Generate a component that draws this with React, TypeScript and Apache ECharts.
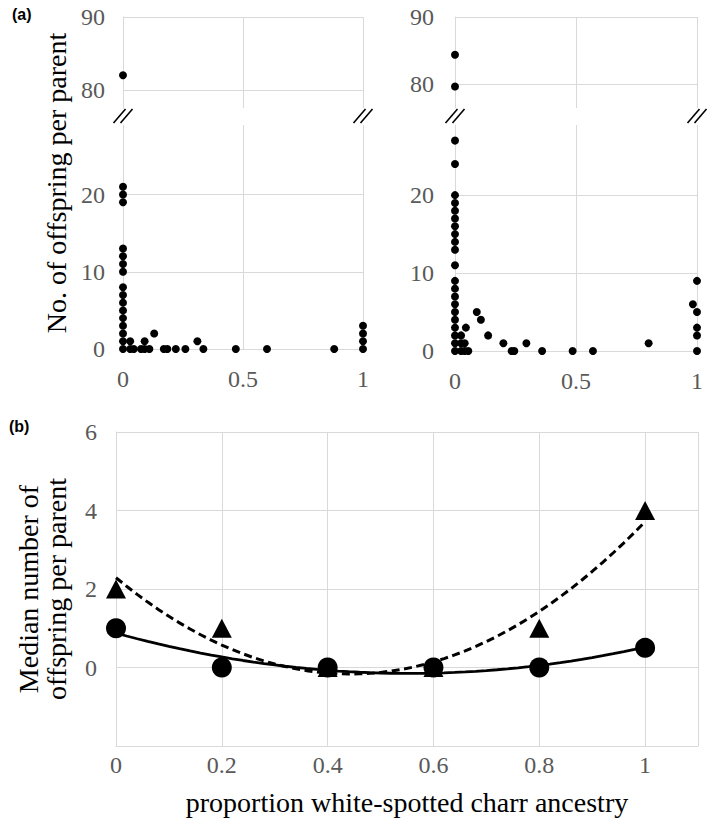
import React, { useEffect, useRef } from "react";
import * as echarts from "echarts";

// ---------- (a) left panel: offspring per parent vs ancestry ----------
const leftUpperPoints: number[][] = [[0, 82]];
const leftLowerPoints: number[][] = [
  [0, 0], [0, 1], [0, 2], [0, 3], [0, 4], [0, 5], [0, 6], [0, 7], [0, 8],
  [0, 10], [0, 11], [0, 12], [0, 13], [0, 19], [0, 20], [0, 21],
  [0.03, 0], [0.03, 1], [0.045, 0], [0.075, 0], [0.09, 0], [0.09, 1], [0.11, 0],
  [0.13, 2], [0.17, 0], [0.185, 0], [0.22, 0], [0.26, 0], [0.31, 1], [0.335, 0],
  [0.47, 0], [0.6, 0], [0.88, 0], [1, 0], [1, 1], [1, 2], [1, 3],
];

// ---------- (a) right panel ----------
const rightUpperPoints: number[][] = [[0, 84.4], [0, 79.7]];
const rightLowerPoints: number[][] = [
  [0, 0], [0, 1], [0, 2], [0, 3], [0, 4], [0, 5], [0, 6], [0, 7], [0, 8], [0, 9],
  [0, 11], [0, 13], [0, 14], [0, 15], [0, 16], [0, 17], [0, 18], [0, 19], [0, 20],
  [0, 24], [0, 27],
  [0.025, 0], [0.025, 1], [0.025, 2], [0.04, 0], [0.04, 1], [0.045, 3], [0.055, 0],
  [0.09, 5], [0.107, 4], [0.137, 2], [0.2, 1], [0.234, 0], [0.245, 0], [0.295, 1],
  [0.36, 0], [0.486, 0], [0.57, 0], [0.8, 1], [0.983, 6], [1, 9], [1, 5], [1, 3],
  [1, 2], [1, 0],
];

// ---------- (b) medians ----------
const ancestry = [0, 0.2, 0.4, 0.6, 0.8, 1];
const medianCircles = [1, 0, 0, 0, 0, 0.5];
const medianTriangles = [2, 1, 0, 0, 1, 4];

// tick / grid values
const upperGridValues = [80, 90];
const lowerGridValues = [10, 20];

const FONT = "'Liberation Serif', 'Times New Roman', serif";
const GRAY = "#d9d9d9";
const LABEL = "#595959";

// quadratic least-squares trendline (as Excel's polynomial order 2)
function quadFit(xs: number[], ys: number[]) {
  const n = xs.length;
  let s1 = 0, s2 = 0, s3 = 0, s4 = 0, t0 = 0, t1 = 0, t2 = 0;
  for (let i = 0; i < n; i++) {
    const x = xs[i], y = ys[i];
    s1 += x; s2 += x * x; s3 += x * x * x; s4 += x * x * x * x;
    t0 += y; t1 += x * y; t2 += x * x * y;
  }
  const M = [
    [n, s1, s2, t0],
    [s1, s2, s3, t1],
    [s2, s3, s4, t2],
  ];
  for (let c = 0; c < 3; c++) {
    for (let r = c + 1; r < 3; r++) {
      const f = M[r][c] / M[c][c];
      for (let k = c; k < 4; k++) M[r][k] -= f * M[c][k];
    }
  }
  const co = [0, 0, 0];
  for (let r = 2; r >= 0; r--) {
    let s = M[r][3];
    for (let k = r + 1; k < 3; k++) s -= M[r][k] * co[k];
    co[r] = s / M[r][r];
  }
  return (x: number) => co[0] + co[1] * x + co[2] * x * x;
}

function trend(xs: number[], ys: number[]) {
  const f = quadFit(xs, ys);
  const lo = Math.min(...xs), hi = Math.max(...xs);
  const out: number[][] = [];
  for (let i = 0; i <= 50; i++) {
    const x = lo + ((hi - lo) * i) / 50;
    out.push([x, f(x)]);
  }
  return out;
}

// layout
const LEFT_X = 123, LEFT_W = 240;
const RIGHT_X = 455, RIGHT_W = 242;
const UP_TOP = 17, UP_H = 91;
const LOW_TOP = 125;

export default function App() {
  const ref = useRef<HTMLDivElement>(null);
  useEffect(() => {
    if (!ref.current) return;
    const chart = echarts.init(ref.current, null, { renderer: "svg" });

    const gridLines = (vals: number[]) => ({
      silent: true,
      symbol: ["none", "none"],
      z: 1,
      label: { show: false },
      emphasis: { disabled: true },
      lineStyle: { color: GRAY, width: 1, type: "solid" },
      data: vals.map((v) => ({ yAxis: v })),
    });

    const topX = (gridIndex: number, show: boolean) => ({
      type: "value",
      gridIndex,
      min: 0,
      max: 1,
      interval: 0.5,
      axisLine: { show, onZero: false, lineStyle: { color: GRAY, width: 1 } },
      axisTick: { show: false },
      axisLabel: {
        show,
        color: LABEL,
        fontFamily: FONT,
        fontSize: 24,
        margin: 18,
        formatter: (v: number) => String(v),
      },
      splitLine: { show: true, lineStyle: { color: GRAY, width: 1 } },
    });

    const yLab = (margin: number, keep: (v: number) => boolean) => ({
      color: LABEL,
      fontFamily: FONT,
      fontSize: 24,
      margin,
      formatter: (v: number) => (keep(v) ? String(v) : ""),
    });

    const topY = (gridIndex: number, min: number, max: number, interval: number, margin: number) => ({
      type: "value",
      gridIndex,
      min,
      max,
      interval,
      axisLine: { show: true, onZero: false, lineStyle: { color: GRAY, width: 1 } },
      axisTick: { show: false },
      axisLabel: yLab(margin, (v) => v % 10 === 0),
      splitLine: { show: false },
    });

    const dot = (xi: number, data: number[][], grid: number[]) => ({
      type: "scatter",
      xAxisIndex: xi,
      yAxisIndex: xi,
      data,
      symbolSize: 8,
      itemStyle: { color: "#000", opacity: 1 },
      z: 3,
      markLine: gridLines(grid),
    });

    const breakMarks = (cx: number, cy: number) =>
      [-3.5, 3.5].map((d) => ({
        type: "line",
        silent: true,
        z: 10,
        shape: { x1: cx - 6 + d, y1: cy + 7, x2: cx + 6 + d, y2: cy - 7 },
        style: { stroke: "#000", lineWidth: 1.6 },
      }));

    const BREAK_Y = 116;

    const option: any = {
      animation: false,
      backgroundColor: "#fff",
      grid: [
        { left: LEFT_X, top: UP_TOP, width: LEFT_W, height: UP_H, outerBoundsMode: "none" },
        { left: LEFT_X, top: LOW_TOP, width: LEFT_W, height: 224, outerBoundsMode: "none" },
        { left: RIGHT_X, top: UP_TOP, width: RIGHT_W, height: UP_H, outerBoundsMode: "none" },
        { left: RIGHT_X, top: LOW_TOP, width: RIGHT_W, height: 226, outerBoundsMode: "none" },
        { left: 116, top: 432, width: 582, height: 314, outerBoundsMode: "none" },
      ],
      xAxis: [
        topX(0, false),
        topX(1, true),
        topX(2, false),
        topX(3, true),
        {
          type: "value",
          gridIndex: 4,
          min: 0,
          max: 1.1,
          interval: 0.2,
          axisLine: { show: true, onZero: false, lineStyle: { color: GRAY, width: 1 } },
          axisTick: { show: false },
          axisLabel: {
            color: LABEL,
            fontFamily: FONT,
            fontSize: 24,
            margin: 7,
            formatter: (v: number) => (v > 1.05 ? "" : String(Math.round(v * 10) / 10)),
          },
          splitLine: { show: true, lineStyle: { color: GRAY, width: 1 } },
        },
      ],
      yAxis: [
        topY(0, 77.5, 90, 2.5, 18),
        topY(1, 0, 29, 10, 18),
        topY(2, 76.5, 90, 0.5, 21),
        topY(3, 0, 29, 10, 21),
        {
          type: "value",
          gridIndex: 4,
          min: -2,
          max: 6,
          interval: 2,
          axisLine: { show: true, onZero: false, lineStyle: { color: GRAY, width: 1 } },
          axisTick: { show: false },
          axisLabel: yLab(19, (v) => v >= 0),
          splitLine: { show: true, lineStyle: { color: GRAY, width: 1 } },
        },
      ],
      series: [
        dot(0, leftUpperPoints, upperGridValues),
        dot(1, leftLowerPoints, lowerGridValues),
        dot(2, rightUpperPoints, upperGridValues),
        dot(3, rightLowerPoints, lowerGridValues),
        {
          type: "line",
          xAxisIndex: 4,
          yAxisIndex: 4,
          data: trend(ancestry, medianTriangles),
          showSymbol: false,
          symbol: "none",
          silent: true,
          lineStyle: { color: "#000", width: 3, type: [8, 4.5] },
          z: 2,
        },
        {
          type: "line",
          xAxisIndex: 4,
          yAxisIndex: 4,
          data: trend(ancestry, medianCircles),
          showSymbol: false,
          symbol: "none",
          silent: true,
          lineStyle: { color: "#000", width: 2.8, type: "solid" },
          z: 2,
        },
        {
          type: "scatter",
          xAxisIndex: 4,
          yAxisIndex: 4,
          data: ancestry.map((x, i) => [x, medianTriangles[i]]),
          symbol: "triangle",
          symbolSize: [20, 19],
          itemStyle: { color: "#000", opacity: 1 },
          z: 3,
        },
        {
          type: "scatter",
          xAxisIndex: 4,
          yAxisIndex: 4,
          data: ancestry.map((x, i) => [x, medianCircles[i]]),
          symbol: "circle",
          symbolSize: 20,
          itemStyle: { color: "#000", opacity: 1 },
          z: 4,
        },
      ],
      graphic: [
        {
          type: "text",
          left: 12,
          top: 6,
          style: { text: "(a)", font: "bold 16px 'Liberation Sans', Arial, sans-serif", fill: "#000" },
        },
        {
          type: "text",
          left: 9,
          top: 418,
          style: { text: "(b)", font: "bold 16px 'Liberation Sans', Arial, sans-serif", fill: "#000" },
        },
        {
          type: "text",
          x: 56,
          y: 183,
          rotation: Math.PI / 2,
          style: {
            text: "No. of offspring per parent",
            font: `28px ${FONT}`,
            fill: "#000",
            align: "center",
            verticalAlign: "middle",
          },
        },
        {
          type: "text",
          x: 42,
          y: 589,
          rotation: Math.PI / 2,
          style: {
            text: "Median number of\noffspring per parent",
            font: `28px ${FONT}`,
            lineHeight: 28,
            fill: "#000",
            align: "center",
            verticalAlign: "middle",
          },
        },
        {
          type: "text",
          x: 407,
          y: 802,
          style: {
            text: "proportion white-spotted charr ancestry",
            font: `28px ${FONT}`,
            fill: "#000",
            align: "center",
            verticalAlign: "middle",
          },
        },
        ...breakMarks(LEFT_X, BREAK_Y),
        ...breakMarks(LEFT_X + LEFT_W, BREAK_Y),
        ...breakMarks(RIGHT_X, BREAK_Y),
        ...breakMarks(RIGHT_X + RIGHT_W, BREAK_Y),
      ],
    };

    chart.setOption(option);
    return () => chart.dispose();
  }, []);

  return (
    <div
      ref={ref}
      style={{ position: "fixed", left: 0, top: 0, width: 709, height: 818, background: "#fff" }}
    />
  );
}
